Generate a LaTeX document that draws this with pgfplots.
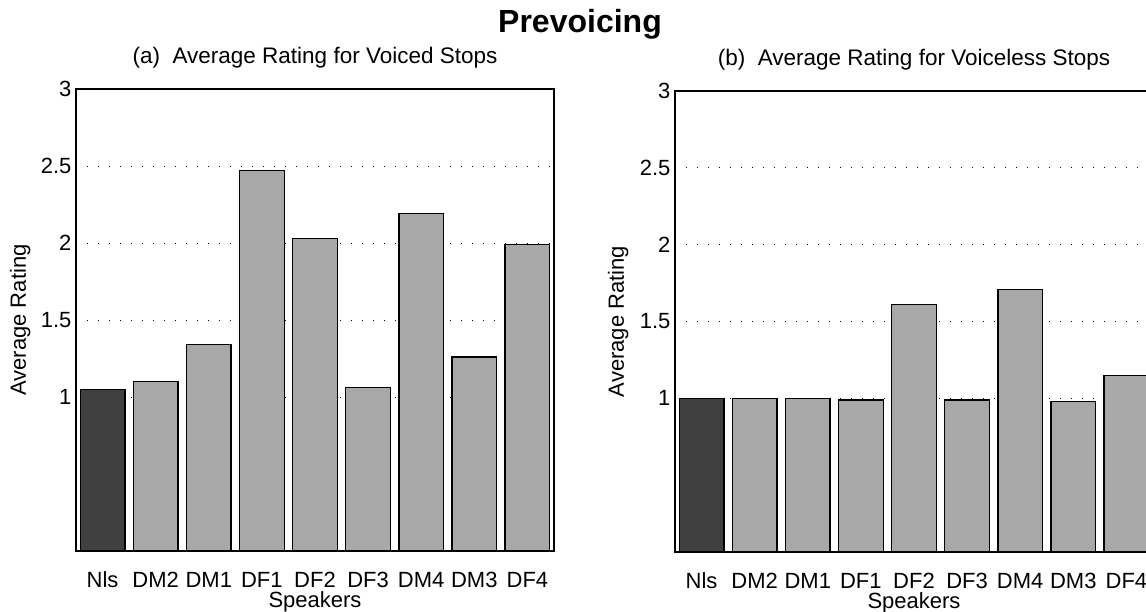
\documentclass[border=0pt]{standalone}
\usepackage{pgfplots}
\pgfplotsset{compat=1.18}
\usepackage{fontspec}
\setmainfont{Liberation Sans}

\definecolor{barlight}{gray}{0.66}
\definecolor{bardark}{gray}{0.25}

\pgfplotsset{
  ratingaxis/.style={
    scale only axis,
    anchor=south west,
    width=478pt,
    xmin=0.5, xmax=9.5,
    ymin=0, ymax=3,
    xtick={1,...,9},
    xticklabels={Nls,DM2,DM1,DF1,DF2,DF3,DM4,DM3,DF4},
    ytick={1,1.5,2,2.5,3},
    yticklabels={1,1.5,2,2.5,3},
    major tick length=0pt,
    ymajorgrids,
    grid style={black, line width=0.9pt, dash pattern=on 1pt off 10pt},
    axis line style={line width=1.3pt},
    /pgf/number format/assume math mode=true,
    tick label style={font=\fontsize{22}{26}\selectfont},
    xticklabel style={anchor=base, yshift=-36pt},
    yticklabel style={anchor=east, xshift=-1pt},
    label style={font=\fontsize{22}{26}\selectfont},
    xlabel={Speakers},
    xlabel style={at={(axis description cs:0.5,0)}, anchor=base, yshift=-56pt},
    ylabel={Average Rating},
    title style={font=\fontsize{22.5}{26}\selectfont, at={(axis description cs:0.5,1)}, anchor=base, yshift=19pt},
  },
  ratingbar/.style={ybar, bar width=0.84, draw=black, line width=1.3pt},
}

\begin{document}
\begin{tikzpicture}[x=1pt,y=1pt]
\useasboundingbox (0,0) rectangle (1146,611);

\node[font=\fontsize{32}{36}\selectfont\bfseries, anchor=base] at (580,578) {Prevoicing};

% (a) voiced stops
\begin{axis}[ratingaxis, at={(76pt,60pt)}, height=462pt,
  ylabel style={at={(axis description cs:-0.117,0.5)}, anchor=center},
  title={(a)\ \ Average Rating for Voiced Stops}]
\addplot[ratingbar, fill=bardark] coordinates {(1,1.05)};
\addplot[ratingbar, fill=barlight] coordinates {
  (2,1.10) (3,1.34) (4,2.47) (5,2.03) (6,1.06) (7,2.19) (8,1.26) (9,1.99)};
\end{axis}

% (b) voiceless stops
\begin{axis}[ratingaxis, at={(675pt,59pt)}, height=461pt,
  ylabel style={at={(axis description cs:-0.119,0.5)}, anchor=center},
  title={(b)\ \ Average Rating for Voiceless Stops}]
\addplot[ratingbar, fill=bardark] coordinates {(1,1.00)};
\addplot[ratingbar, fill=barlight] coordinates {
  (2,1.00) (3,1.00) (4,0.99) (5,1.61) (6,0.99) (7,1.71) (8,0.98) (9,1.15)};
\end{axis}
\end{tikzpicture}
\end{document}
